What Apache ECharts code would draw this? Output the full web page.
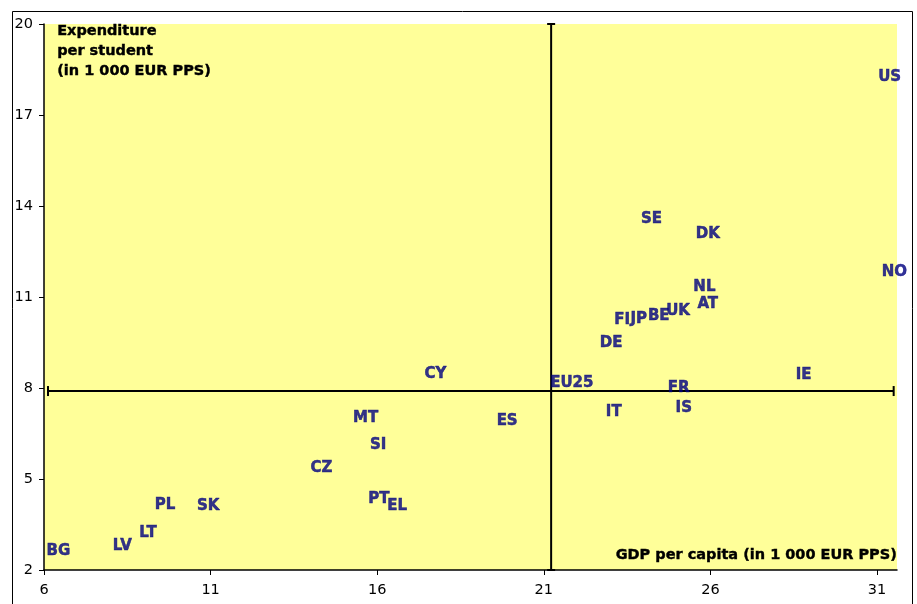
<!DOCTYPE html>
<html>
<head>
<meta charset="utf-8">
<script src="https://cdn.jsdelivr.net/npm/echarts@6/dist/echarts.min.js"></script>
<style>html,body{margin:0;padding:0;background:#fff}#c{width:917px;height:604px}</style>
</head>
<body>
<div id="c"></div>
<script>
// ---- data ----
var countries = ['BG','LV','LT','PL','SK','CZ','MT','SI','PT','EL','CY','ES','EU25','IT','FR','IS','DE','FI','JP','BE','UK','NL','AT','SE','DK','NO','IE','US'];
var gdpPerCapita = [6.43,8.35,9.12,9.63,10.93,14.33,15.65,16.03,16.05,16.60,17.75,19.90,21.84,23.10,25.05,25.20,23.02,23.35,23.85,24.45,25.03,25.82,25.92,24.23,25.92,31.52,28.80,31.38];
var expenditure = [2.63,2.80,3.21,4.14,4.09,5.35,7.01,6.12,4.34,4.09,8.46,6.91,8.17,7.22,8.01,7.35,9.49,10.24,10.27,10.37,10.55,11.32,10.76,13.57,13.08,11.83,8.44,18.26];
var xTicks = [6,11,16,21,26,31];
var yTicks = [2,5,8,11,14,17,20];
// crosshair (EU25 reference): centre x, centre y, x-range, y-range
var crossX = 21.22, crossY = 7.90;
var crossXRange = [6.12, 31.5];
var crossYRange = [2, 20];
var yTitle = ['Expenditure','per student','(in 1 000 EUR PPS)'];
var xTitle = 'GDP per capita (in 1 000 EUR PPS)';

var points = countries.map(function(c,i){ return [gdpPerCapita[i], expenditure[i], c]; });

var chart = echarts.init(document.getElementById('c'));
var navy = '#000080';
var fontB = 'DejaVu Sans';

chart.setOption({
  animation: false,
  backgroundColor: '#ffffff',
  grid: { left: 44, top: 24, right: 20, bottom: 34, show: true, backgroundColor: '#FFFF99', borderWidth: 0 },
  xAxis: {
    type: 'value', min: 6, max: 31.6, interval: 5,
    axisLine: { show: true, onZero: false, lineStyle: { color: '#000', width: 1.5 } },
    axisTick: { show: true, length: 5, inside: false, customValues: xTicks, lineStyle: { color: '#000' } },
    axisLabel: { customValues: xTicks, margin: 13, color: '#000', fontSize: 14.5, fontFamily: 'DejaVu Sans' },
    splitLine: { show: false }
  },
  yAxis: {
    type: 'value', min: 2, max: 20, interval: 3,
    axisLine: { show: true, onZero: false, lineStyle: { color: '#000', width: 1.5 } },
    axisTick: { show: true, length: 5, inside: false, customValues: yTicks, lineStyle: { color: '#000' } },
    axisLabel: { customValues: yTicks, margin: 11, color: '#000', fontSize: 14.5, fontFamily: 'DejaVu Sans' },
    splitLine: { show: false }
  },
  graphic: [
    { type: 'rect', silent: true, shape: { x: 12.5, y: 11.5, width: 900, height: 620 }, style: { fill: 'none', stroke: '#000', lineWidth: 1 } },
    { type: 'text', left: 57, top: 21, silent: true, style: { text: yTitle.join('\n'), fontFamily: fontB, fontWeight: 'bold', fontSize: 14.5, lineHeight: 20, fill: '#000', stroke: '#000', lineWidth: 0.4 } },
    { type: 'text', right: 20, top: 548, silent: true, style: { text: xTitle, fontFamily: fontB, fontWeight: 'bold', fontSize: 14.5, fill: '#000', stroke: '#000', lineWidth: 0.4 } }
  ],
  series: [
    {
      type: 'custom', clip: false, silent: true, z: 3,
      data: [[crossX, crossY, crossXRange[0], crossXRange[1], crossYRange[0], crossYRange[1]]],
      renderItem: function(params, api){
        var c = api.coord([api.value(0), api.value(1)]);
        var l = api.coord([api.value(2), api.value(1)]);
        var r = api.coord([api.value(3), api.value(1)]);
        var b = api.coord([api.value(0), api.value(4)]);
        var t = api.coord([api.value(0), api.value(5)]);
        var st = { stroke: '#000', lineWidth: 2 };
        var cap = 5, capV = 4;
        return { type: 'group', children: [
          { type: 'line', shape: { x1: l[0], y1: l[1], x2: r[0], y2: r[1] }, style: st },
          { type: 'line', shape: { x1: l[0], y1: l[1]-cap, x2: l[0], y2: l[1]+cap }, style: st },
          { type: 'line', shape: { x1: r[0], y1: r[1]-cap, x2: r[0], y2: r[1]+cap }, style: st },
          { type: 'line', shape: { x1: b[0], y1: b[1], x2: t[0], y2: t[1] }, style: st },
          { type: 'line', shape: { x1: t[0]-capV, y1: t[1], x2: t[0]+capV, y2: t[1] }, style: st },
          { type: 'line', shape: { x1: b[0]-capV, y1: b[1], x2: b[0]+capV, y2: b[1] }, style: st }
        ]};
      }
    },
    {
      type: 'scatter', clip: false, z: 5,
      symbolSize: 0,
      data: points,
      label: {
        show: true, position: 'inside',
        formatter: function(p){ return p.data[2]; },
        color: navy, fontFamily: fontB, fontWeight: 'bold', fontSize: 15,
        textBorderColor: navy, textBorderWidth: 0.5
      }
    }
  ]
});
</script>
</body>
</html>
